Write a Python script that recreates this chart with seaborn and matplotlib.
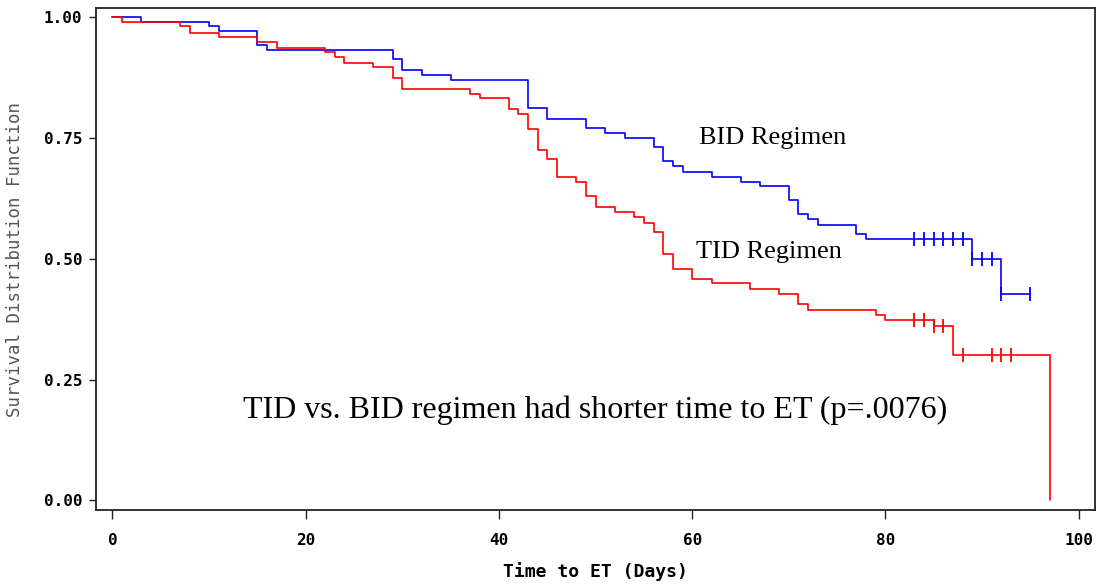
import numpy as np
import pandas as pd
import matplotlib
matplotlib.use("Agg")
import matplotlib.pyplot as plt
import seaborn as sns

# -----------------------------
# DATA
# -----------------------------
bid_time = [0, 3, 10, 11, 15, 16, 29, 30, 32, 35, 43, 45, 49, 51, 53, 56, 57, 58,
            59, 62, 65, 67, 70, 71, 72, 73, 77, 78, 89, 92, 95]
bid_surv = [1.000, 0.991, 0.981, 0.972, 0.943, 0.932, 0.913, 0.891, 0.881, 0.871,
            0.812, 0.790, 0.771, 0.760, 0.751, 0.731, 0.702, 0.692, 0.680, 0.670,
            0.660, 0.651, 0.622, 0.592, 0.582, 0.571, 0.551, 0.541, 0.499, 0.428,
            0.428]
bid_censor = [83, 84, 85, 86, 87, 88, 89, 90, 91, 92, 95]

tid_time = [0, 1, 7, 8, 11, 15, 17, 22, 23, 24, 27, 29, 30, 37, 38, 41, 42, 43,
            44, 45, 46, 48, 49, 50, 52, 54, 55, 56, 57, 58, 60, 62, 66, 69, 71,
            72, 79, 80, 85, 87, 97]
tid_surv = [1.000, 0.991, 0.981, 0.968, 0.959, 0.949, 0.937, 0.927, 0.918, 0.905,
            0.896, 0.874, 0.852, 0.842, 0.832, 0.810, 0.800, 0.768, 0.725, 0.706,
            0.670, 0.660, 0.629, 0.608, 0.597, 0.587, 0.575, 0.556, 0.511, 0.480,
            0.458, 0.449, 0.438, 0.427, 0.406, 0.394, 0.384, 0.374, 0.360, 0.302,
            0.000]
tid_censor = [83, 84, 85, 86, 88, 91, 92, 93]

x_ticks = [0, 20, 40, 60, 80, 100]
y_ticks = [0.00, 0.25, 0.50, 0.75, 1.00]
y_ticklabels = ["0.00", "0.25", "0.50", "0.75", "1.00"]

COLORS = {"BID": "#0000ff", "TID": "#ff0000"}


def surv_at(times, surv, t):
    idx = np.searchsorted(times, t, side="right") - 1
    return surv[idx]


curves = pd.concat([
    pd.DataFrame({"time": bid_time, "surv": bid_surv, "group": "BID"}),
    pd.DataFrame({"time": tid_time, "surv": tid_surv, "group": "TID"}),
])
censored = pd.concat([
    pd.DataFrame({"time": bid_censor,
                  "surv": [surv_at(bid_time, bid_surv, t) for t in bid_censor],
                  "group": "BID"}),
    pd.DataFrame({"time": tid_censor,
                  "surv": [surv_at(tid_time, tid_surv, t) for t in tid_censor],
                  "group": "TID"}),
])

# -----------------------------
# PLOT
# -----------------------------
sns.set_style("ticks")
plt.rcParams["font.family"] = ["DejaVu Sans Mono", "DejaVu Sans"]

fig = plt.figure(figsize=(10.97, 5.84), dpi=100)
ax = fig.add_axes([0.0875, 0.1267, 0.9105, 0.8596])

sns.lineplot(data=curves, x="time", y="surv", hue="group", palette=COLORS,
             estimator=None, sort=True, drawstyle="steps-post", linewidth=1.2,
             legend=False, ax=ax)
for grp, sub in censored.groupby("group"):
    ax.plot(sub["time"], sub["surv"], linestyle="none", marker="|",
            markersize=10, markeredgewidth=1.3, color=COLORS[grp])

ax.set_xlim(-1.69, 101.66)
ax.set_ylim(-0.0197, 1.019)
ax.set_xticks(x_ticks)
ax.set_yticks(y_ticks)
ax.set_yticklabels(y_ticklabels)

for sp in ax.spines.values():
    sp.set_visible(True)
    sp.set_color("#222222")
    sp.set_linewidth(1.3)

ax.tick_params(axis="x", length=6.5, width=1, pad=10, colors="#222222",
               labelsize=11.5, labelcolor="black")
ax.tick_params(axis="y", length=5, width=1, pad=5, colors="#222222",
               labelsize=11.5, labelcolor="black")
for lab in ax.get_xticklabels() + ax.get_yticklabels():
    lab.set_fontweight("bold")

ax.set_xlabel("Time to ET (Days)", fontsize=13, fontweight="bold", labelpad=10,
              color="black")
ax.set_ylabel("Survival Distribution Function", fontsize=12.5, color="#555555",
              labelpad=14)

serif = ["Liberation Serif", "DejaVu Serif"]
ax.text(60.7, 0.750, "BID Regimen", family=serif, fontsize=19, va="center",
        ha="left", color="black")
ax.text(60.4, 0.514, "TID Regimen", family=serif, fontsize=19, va="center",
        ha="left", color="black")
ax.text(13.5, 0.187, "TID vs. BID regimen had shorter time to ET (p=.0076)",
        family=serif, fontsize=23, va="center", ha="left", color="black")

fig.savefig("out.png", dpi=100)
